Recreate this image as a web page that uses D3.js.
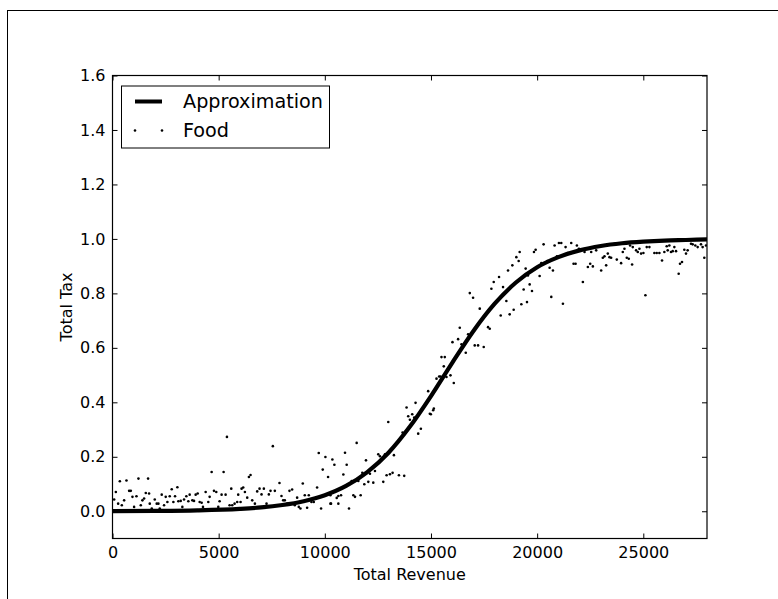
<!DOCTYPE html>
<html>
<head>
<meta charset="utf-8">
<script src="https://cdn.jsdelivr.net/npm/d3@7"></script>
<style>
  html, body { margin: 0; padding: 0; background: #ffffff; }
  svg { display: block; }
  text { font-family: "DejaVu Sans", sans-serif; fill: #000; }
</style>
</head>
<body>
<script>
// ---------- data ----------
const revenue = [
  157,78,345,266,439,548,658,783,862,940,1018,1128,1222,1332,1410,1488,1567,1676,1723,1755,1849,1990,2084,2162,2225,2319,2429,2507,2585,2695,2789,2867,2946,3056,3102,3212,3290,3369,3478,3572,3635,3760,3839,3917,4011,4105,4199,4262,4387,4512,4575,4669,4779,4888,4982,5045,5139,5233,5327,
  5390,
  5515,5640,5750,5875,5593,5922,6032,6079,6157,6236,6345,6424,6502,6580,6706,6815,6925,7019,7129,7254,7364,7442,7552,7646,7756,7865,7959,8038,8116,8226,8335,8461,8586,8696,8774,8852,8962,9056,9166,9244,9370,9479,9636,9714,9824,9902,10028,10153,10263,10263,
  10356,10450,10951,11030,11500,10873,11265,10638,10560,10763,10293,10638,11139,11343,11421,11688,11578,11766,11860,11938,12048,12126,12283,12362,12518,12597,12753,12832,12910,13067,13192,12988,13255,13490,13740,13662,13850,13929,14007,14117,14211,14273,14398,14524,14994,15104,
  14868,16074,
  14946,15134,15260,15385,15448,15604,15495,15651,15730,15918,16012,16278,16435,16356,16638,16748,17061,17218,17485,17297,16983,16827,17688,17767,17845,17955,18206,18284,18394,18550,18629,18707,18832,18895,19020,19130,19177,19255,19365,19459,19522,19569,19648,19757,19851,19929,20117,20196,20305,20478,20588,20666,20744,20822,20932,21026,21136,21214,21339,21449,21606,21716,21810,21872,21966,22154,22233,22389,22499,22624,22546,22781,
  23015,23093,23172,23250,23328,23407,23485,23642,23752,23955,24034,24112,24222,24316,24472,24378,24503,24660,24739,24817,24895,25005,25099,25162,25287,25522,25632,25757,25882,25992,26102,26149,26227,26305,26384,26462,26541,26666,26729,26823,26932,27011,27089,27246,27324,27450,27560,27716,27794,27873,27951
];
const tax = [
  0.071,0.043,0.110,0.028,0.022,0.040,0.113,0.075,0.075,0.053,0.016,0.055,0.120,0.022,0.040,0.047,0.067,0.120,0.065,0.028,0.010,0.043,0.028,0.028,0.010,0.061,0.022,0.053,0.034,0.055,0.081,0.034,0.055,0.088,0.037,0.038,0.016,0.043,0.055,0.037,0.061,0.040,0.038,0.061,0.065,0.034,0.031,0.016,0.071,0.034,0.053,0.144,0.075,0.071,0.016,0.037,0.061,0.144,0.061,
  0.273,
  0.022,0.022,0.028,0.034,0.083,0.061,0.034,0.083,0.087,0.071,0.050,0.126,0.133,0.040,0.028,0.073,0.083,0.062,0.083,0.028,0.062,0.075,0.239,0.075,0.022,0.104,0.056,0.040,0.040,0.028,0.075,0.080,0.022,0.050,0.016,0.010,0.102,0.059,0.013,0.059,0.034,0.034,0.087,0.214,0.010,0.153,0.199,0.126,0.028,0.059,
  0.190,0.171,0.215,0.171,0.251,0.135,0.111,0.056,0.049,0.059,0.028,0.028,0.010,0.059,0.053,0.059,0.111,0.141,0.099,0.187,0.108,0.138,0.105,0.148,0.209,0.202,0.108,0.209,0.132,0.136,0.141,0.328,0.206,0.132,0.130,0.289,0.381,0.349,0.336,0.356,0.344,0.398,0.285,0.303,0.356,0.371,
  0.441,0.471,
  0.358,0.377,0.487,0.495,0.495,0.532,0.566,0.566,0.493,0.499,0.621,0.632,0.613,0.674,0.582,0.650,0.609,0.609,0.603,0.744,0.784,0.801,0.676,0.670,0.817,0.842,0.860,0.719,0.823,0.772,0.884,0.723,0.903,0.740,0.933,0.919,0.952,0.760,0.814,0.891,0.768,0.866,0.833,0.809,0.952,0.960,0.864,0.911,0.980,0.919,0.894,0.787,0.884,0.976,0.936,0.985,0.985,0.762,0.970,0.948,0.985,0.909,0.909,0.976,0.964,0.842,0.952,0.897,0.909,0.899,0.952,0.958,
  0.884,0.931,0.936,0.903,0.946,0.933,0.931,0.982,0.924,0.911,0.952,0.964,0.931,0.927,0.906,0.976,0.970,0.958,0.952,0.964,0.946,0.948,0.793,0.970,0.970,0.948,0.948,0.948,0.921,0.952,0.973,0.958,0.976,0.952,0.955,0.970,0.955,0.872,0.909,0.915,0.960,0.946,0.958,0.982,0.980,0.976,0.970,0.980,0.970,0.931,0.976
];
const approxRevenue = [0,2000,4000,6000,7000,8000,9000,10000,11000,12000,13000,14000,15000,16000,17000,18000,19000,20000,21000,22000,23000,24000,25000,26000,27000,28000];
const approxTax = [0.0005,0.0012,0.0033,0.0087,0.014,0.023,0.037,0.059,0.093,0.144,0.215,0.310,0.423,0.545,0.662,0.762,0.840,0.896,0.933,0.958,0.974,0.984,0.990,0.994,0.996,0.998];
const xTicks = [0,5000,10000,15000,20000,25000];
const yTicks = [0.0,0.2,0.4,0.6,0.8,1.0,1.2,1.4,1.6];
const seriesNames = ["Approximation","Food"];
const xLabel = "Total Revenue";
const yLabel = "Total Tax";

// ---------- layout ----------
const W = 778, H = 599;
const L = 112.5, R = 707, T = 75.5, B = 538.5;

const svg = d3.select("body").append("svg").attr("width", W).attr("height", H);

// figure border (top & left edge visible)
svg.append("rect").attr("x", 7.5).attr("y", 10.5).attr("width", W + 20).attr("height", H + 20)
  .attr("fill", "#fff").attr("stroke", "#000").attr("stroke-width", 1);

const x = d3.scaleLinear().domain([0, 28000]).range([L, R]);
const y = d3.scaleLinear().domain([-0.1, 1.6]).range([B, T]);

svg.append("defs").append("clipPath").attr("id", "clip")
  .append("rect").attr("x", L).attr("y", T).attr("width", R - L).attr("height", B - T);

const plot = svg.append("g").attr("clip-path", "url(#clip)");

// approximation curve
const curveData = approxRevenue.map((v, i) => [v, approxTax[i]]);
plot.append("path").datum(curveData)
  .attr("fill", "none").attr("stroke", "#000").attr("stroke-width", 4.2)
  .attr("stroke-linejoin", "round")
  .attr("d", d3.line().x(d => x(d[0])).y(d => y(d[1])).curve(d3.curveMonotoneX));

// scatter points
plot.selectAll("circle.pt").data(revenue.map((v, i) => [v, tax[i]])).enter()
  .append("circle").attr("class", "pt")
  .attr("cx", d => x(d[0])).attr("cy", d => y(d[1])).attr("r", 1.3).attr("fill", "#000");

// axes
const fs = "16px";
const gB = svg.append("g").attr("transform", `translate(0,${B})`)
  .call(d3.axisBottom(x).tickValues(xTicks).tickSizeInner(-5).tickSizeOuter(0).tickPadding(8).tickFormat(d3.format("d")));
const gL = svg.append("g").attr("transform", `translate(${L},0)`)
  .call(d3.axisLeft(y).tickValues(yTicks).tickSizeInner(-5).tickSizeOuter(0).tickPadding(7).tickFormat(d3.format(".1f")));
const gT = svg.append("g").attr("transform", `translate(0,${T})`)
  .call(d3.axisTop(x).tickValues(xTicks).tickSizeInner(-5).tickSizeOuter(0).tickFormat(""));
const gR = svg.append("g").attr("transform", `translate(${R},0)`)
  .call(d3.axisRight(y).tickValues(yTicks).tickSizeInner(-5).tickSizeOuter(0).tickFormat(""));
[gB, gL, gT, gR].forEach(g => {
  g.select(".domain").remove();
  g.selectAll("line").attr("stroke", "#000").attr("stroke-width", 1);
  g.selectAll("text").attr("font-family", "DejaVu Sans").attr("font-size", fs).attr("fill", "#000");
});

// frame
svg.append("rect").attr("x", L).attr("y", T).attr("width", R - L).attr("height", B - T)
  .attr("fill", "none").attr("stroke", "#000").attr("stroke-width", 1.2);

// axis labels
svg.append("text").attr("x", (L + R) / 2).attr("y", 580).attr("text-anchor", "middle")
  .attr("font-size", fs).text(xLabel);
svg.append("text").attr("transform", `translate(72,${(T + B) / 2}) rotate(-90)`)
  .attr("text-anchor", "middle").attr("font-size", fs).text(yLabel);

// legend
const lg = svg.append("g");
lg.append("rect").attr("x", 121.5).attr("y", 86).attr("width", 208).attr("height", 62)
  .attr("fill", "#fff").attr("stroke", "#000").attr("stroke-width", 1);
lg.append("line").attr("x1", 135).attr("x2", 162).attr("y1", 101.5).attr("y2", 101.5)
  .attr("stroke", "#000").attr("stroke-width", 4);
lg.append("text").attr("x", 183).attr("y", 101.5).attr("dy", "0.36em")
  .attr("font-size", "19.2px").text(seriesNames[0]);
[135, 162].forEach(cx => lg.append("circle").attr("cx", cx).attr("cy", 130.5).attr("r", 1.3).attr("fill", "#000"));
lg.append("text").attr("x", 183).attr("y", 130).attr("dy", "0.36em")
  .attr("font-size", "19.2px").text(seriesNames[1]);
</script>
</body>
</html>
